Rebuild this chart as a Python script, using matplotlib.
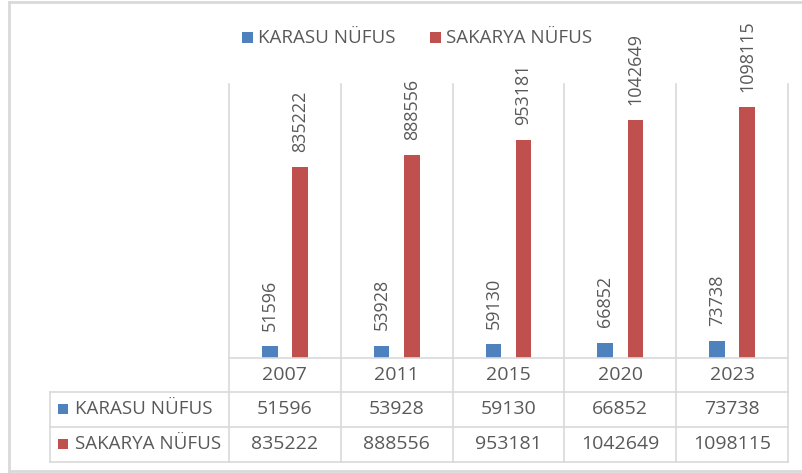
import numpy as np
import matplotlib
matplotlib.use("Agg")
import matplotlib.pyplot as plt
import matplotlib.transforms as mtransforms
from matplotlib.lines import Line2D
from matplotlib.patches import Rectangle

years = ["2007", "2011", "2015", "2020", "2023"]
karasu = [51596, 53928, 59130, 66852, 73738]
sakarya = [835222, 888556, 953181, 1042649, 1098115]
series_names = ["KARASU NÜFUS", "SAKARYA NÜFUS"]

BLUE = "#4f81bd"
RED = "#c0504d"
GRID = "#d9d9d9"
TXT = "#595959"

W, H = 803, 473
plt.rcParams['font.family'] = ['Open Sans', 'DejaVu Sans']

fig = plt.figure(figsize=(W / 100, H / 100), dpi=100)


def fx(px):
    return px / W


def fy(py):
    return 1 - py / H


# plot area (pixel box 229..788 x 84..358)
ax = fig.add_axes([fx(229), fy(358), fx(788) - fx(229), (358 - 84) / H])
x = np.arange(len(years))
off = 0.135
bw = 0.14
b1 = ax.bar(x - off, karasu, bw, color=BLUE)
b2 = ax.bar(x + off, sakarya, bw, color=RED)
for bars, vals in [(b1, karasu), (b2, sakarya)]:
    for r, v in zip(bars, vals):
        ax.annotate(str(v), (r.get_x() + r.get_width() / 2, r.get_height()),
                    xytext=(0, 11), textcoords="offset points", rotation=90,
                    ha="center", va="bottom", fontsize=13, color=TXT)
ax.set_xlim(-0.5, len(years) - 0.5)
ax.set_ylim(0, 1.2e6)
ax.set_xticks([])
ax.set_yticks([])
for s in ax.spines.values():
    s.set_visible(False)

# table below the plot, x from category scale, y in figure coords
tr = mtransforms.blended_transform_factory(ax.transData, fig.transFigure)
left_x = -0.5 - (229 - 50) / ((788 - 229) / len(years))
rows_y = [358, 392, 427, 462]

# vertical separators through plot area and table
for k in range(len(years) + 1):
    xv = k - 0.5
    fig.add_artist(Line2D([xv, xv], [fy(84), fy(462)], transform=tr, color=GRID, lw=1.2))
fig.add_artist(Line2D([left_x, left_x], [fy(392), fy(462)], transform=tr, color=GRID, lw=1.2))
# horizontal lines
fig.add_artist(Line2D([-0.5, len(years) - 0.5], [fy(358), fy(358)], transform=tr, color=GRID, lw=1.2))
for py in rows_y[1:]:
    fig.add_artist(Line2D([left_x, len(years) - 0.5], [fy(py), fy(py)], transform=tr, color=GRID, lw=1.2))

fs = 14
for i, yr in enumerate(years):
    fig.text(i, fy(375), yr, transform=tr, ha="center", va="center", fontsize=fs, color=TXT)
    fig.text(i, fy(409), str(karasu[i]), transform=tr, ha="center", va="center", fontsize=fs, color=TXT)
    fig.text(i, fy(444), str(sakarya[i]), transform=tr, ha="center", va="center", fontsize=fs, color=TXT)

for name, col, py in [(series_names[0], BLUE, 409), (series_names[1], RED, 444)]:
    fig.add_artist(Rectangle((fx(58), fy(py + 5)), 10 / W, 10 / H, transform=fig.transFigure,
                             color=col, lw=0))
    fig.text(fx(75), fy(py), name, ha="left", va="center", fontsize=13.5, color=TXT)

# legend
for name, col, px in [(series_names[0], BLUE, 242), (series_names[1], RED, 430)]:
    fig.add_artist(Rectangle((fx(px), fy(43)), 11 / W, 11 / H, transform=fig.transFigure,
                             color=col, lw=0))
    fig.text(fx(px + 16), fy(38), name, ha="left", va="center", fontsize=13.5, color=TXT)

# outer chart border
fig.add_artist(Line2D([fx(9), fx(9)], [fy(2), fy(471)], color=GRID, lw=2))
fig.add_artist(Line2D([fx(9), 1], [fy(2), fy(2)], color=GRID, lw=2))
fig.add_artist(Line2D([fx(9), 1], [fy(471), fy(471)], color=GRID, lw=2))

fig.savefig("out.png", dpi=100)
